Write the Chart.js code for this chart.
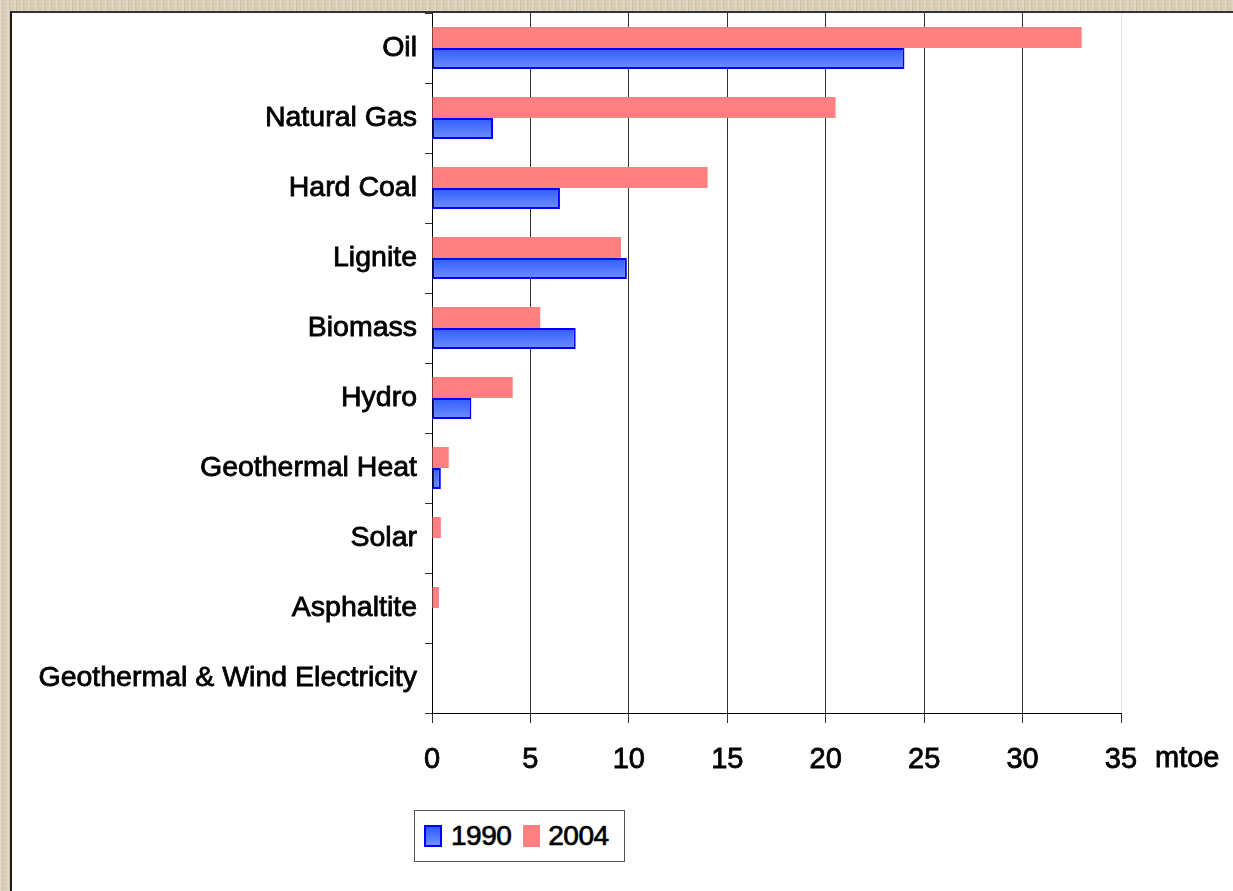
<!DOCTYPE html>
<html>
<head>
<meta charset="utf-8">
<script src="https://cdn.jsdelivr.net/npm/chart.js@4.4.1/dist/chart.umd.min.js"></script>
<style>
html, body { margin: 0; padding: 0; width: 1233px; height: 891px; overflow: hidden; }
body {
  background-color: #d8ccb4;
  background-image:
    repeating-linear-gradient(90deg, rgba(255,255,255,0.18) 0 2px, rgba(120,100,70,0.10) 2px 3px, transparent 3px 7px),
    repeating-linear-gradient(0deg, rgba(255,255,255,0.10) 0 1px, transparent 1px 4px);
}
#panel { position: absolute; left: 10px; top: 11px; right: 0; bottom: 0; background: #fff;
  border-left: 2px solid #1a1a1a; border-top: 2px solid #333; }
#myChart { position: absolute; left: 0; top: 0; }
#legend { position: absolute; left: 414px; top: 810px; width: 211px; height: 52px; box-sizing: border-box;
  border: 1px solid #555; background: #fff; display: flex; align-items: center; padding-left: 9px;
  font-family: 'Liberation Sans', Arial, sans-serif; font-size: 28px; color: #000;
  -webkit-text-stroke: 0.7px #000; }
#legend .sw { display: inline-block; width: 18px; height: 22px; box-sizing: border-box; margin-right: 9px; }
#legend .lbl { margin-right: 12px; letter-spacing: -0.5px; }
</style>
</head>
<body>
<div id="panel"></div>
<canvas id="myChart" width="1233" height="891"></canvas>
<div id="legend"></div>
<script>
const categories = ['Oil', 'Natural Gas', 'Hard Coal', 'Lignite', 'Biomass', 'Hydro',
    'Geothermal Heat', 'Solar', 'Asphaltite', 'Geothermal & Wind Electricity'];
const values1990 = [24.0, 3.1, 6.5, 9.9, 7.3, 2.0, 0.45, 0, 0, 0];
const values2004 = [33.0, 20.5, 14.0, 9.6, 5.5, 4.1, 0.85, 0.45, 0.35, 0];
const seriesNames = ['1990', '2004'];
const xMin = 0, xMax = 35, xStep = 5;
const unitLabel = 'mtoe';

const BLUE_TOP = '#2f5cff';
const BLUE_BOTTOM = '#6f8fff';
const BLUE_EDGE = '#0000ff';
const PINK = '#ff8080';
const FONT = '"Liberation Sans", Arial, sans-serif';

// vertical gradient for each blue bar (bars are horizontal, so one gradient per bar)
function blueFill(c){
    const chart = c.chart;
    const y = chart.scales && chart.scales.y;
    if(!y || c.dataIndex === undefined) return BLUE_TOP;
    const mid = y.getPixelForValue(c.dataIndex);
    if(!isFinite(mid)) return BLUE_TOP;
    const g = chart.ctx.createLinearGradient(0, mid, 0, mid + 21);
    g.addColorStop(0, BLUE_TOP);
    g.addColorStop(1, BLUE_BOTTOM);
    return g;
}

const unitPlugin = {
    id: 'unitLabel',
    afterDraw(chart){
        const xs = chart.scales.x;
        const ctx = chart.ctx;
        ctx.save();
        ctx.font = '29px ' + FONT;
        ctx.fillStyle = '#000';
        ctx.strokeStyle = '#000';
        ctx.lineWidth = 0.8;
        ctx.textAlign = 'left';
        ctx.textBaseline = 'alphabetic';
        ctx.fillText(unitLabel, xs.right + 34, xs.top + 54);
        ctx.strokeText(unitLabel, xs.right + 34, xs.top + 54);
        ctx.restore();
    }
};

const data = {
    labels: categories,
    datasets: [
        {
            label: seriesNames[1],
            data: values2004,
            backgroundColor: PINK,
            borderWidth: 0,
        },
        {
            label: seriesNames[0],
            data: values1990,
            backgroundColor: blueFill,
            borderColor: BLUE_EDGE,
            borderWidth: 2,
            borderSkipped: false,
        }
    ]
};

const config = {
    type: 'bar',
    data: data,
    options: {
        indexAxis: 'y',
        responsive: false,
        animation: false,
        maintainAspectRatio: false,
        datasets: { bar: { categoryPercentage: 0.6, barPercentage: 1.0 } },
        layout: { padding: { left: 0, top: 13, right: 112, bottom: 118 } },
        plugins: {
            legend: { display: false },
            tooltip: { enabled: false },
            title: { display: false }
        },
        scales: {
            x: {
                type: 'linear',
                min: xMin,
                max: xMax,
                ticks: {
                    stepSize: xStep,
                    color: '#000',
                    padding: 20,
                    textStrokeColor: '#000',
                    textStrokeWidth: 0.8,
                    font: { family: FONT, size: 29 }
                },
                grid: {
                    color: c => c.tick && c.tick.value === xMax ? '#e4e4e4' : '#333',
                    tickColor: '#333',
                    tickLength: 10,
                    lineWidth: 1
                },
                border: { color: '#000', width: 1 },
                afterFit(scale){ scale.height = 60; }
            },
            y: {
                ticks: {
                    color: '#000',
                    padding: 8,
                    textStrokeColor: '#000',
                    textStrokeWidth: 0.8,
                    font: { family: FONT, size: 28.5 }
                },
                grid: {
                    drawOnChartArea: false,
                    drawTicks: true,
                    tickLength: 7,
                    tickColor: '#333',
                    offset: true
                },
                border: { color: '#000', width: 1 },
                afterFit(scale){
                    scale.width = 432;
                    scale.paddingTop = 0;
                    scale.paddingBottom = 0;
                }
            }
        }
    },
    plugins: [unitPlugin]
};

let chart;
function mkChart(){
    chart = new Chart(document.getElementById('myChart'), config);
}

function mkLegend(){
    const el = document.getElementById('legend');
    const swatches = [
        'background:linear-gradient(' + BLUE_TOP + ',' + BLUE_BOTTOM + ');border:2px solid ' + BLUE_EDGE + ';',
        'background:' + PINK + ';width:17px;margin-right:8px;'
    ];
    let html = '';
    seriesNames.forEach((name, i) => {
        html += '<span class="sw" style="' + swatches[i] + '"></span><span class="lbl">' + name + '</span>';
    });
    el.innerHTML = html;
}

mkChart();
mkLegend();
</script>
</body>
</html>
